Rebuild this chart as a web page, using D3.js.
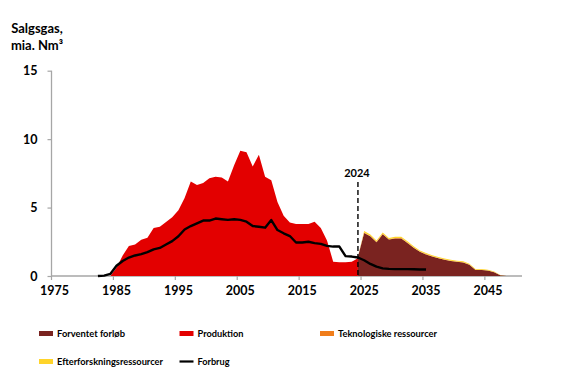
<!DOCTYPE html>
<html>
<head>
<meta charset="utf-8">
<script src="https://cdn.jsdelivr.net/npm/d3@7"></script>
<style>
html,body{margin:0;padding:0;background:#fff;}
svg{display:block;}
text{font-family:Lato, "Liberation Sans", sans-serif;font-weight:bold;fill:#000;}
</style>
</head>
<body>
<svg id="chart" width="576" height="376"></svg>
<script>
const categories = [1975,1976,1977,1978,1979,1980,1981,1982,1983,1984,1985,1986,1987,1988,1989,1990,1991,1992,1993,1994,1995,1996,1997,1998,1999,2000,2001,2002,2003,2004,2005,2006,2007,2008,2009,2010,2011,2012,2013,2014,2015,2016,2017,2018,2019,2020,2021,2022,2023,2024,2025,2026,2027,2028,2029,2030,2031,2032,2033,2034,2035,2036,2037,2038,2039,2040,2041,2042,2043,2044,2045,2046,2047,2048,2049,2050];
const xTickLabels = [1975,1985,1995,2005,2015,2025,2035,2045];
const yTickLabels = [0,5,10,15];

const produktionYears = [1984,1985,1986,1987,1988,1989,1990,1991,1992,1993,1994,1995,1996,1997,1998,1999,2000,2001,2002,2003,2004,2005,2006,2007,2008,2009,2010,2011,2012,2013,2014,2015,2016,2017,2018,2019,2020,2021,2022,2023,2024];
const produktion = [0,0.6,1.5,2.2,2.3,2.65,2.8,3.5,3.6,3.95,4.3,4.8,5.7,6.9,6.65,6.8,7.15,7.25,7.2,6.9,8.1,9.15,9.05,8.0,8.85,7.25,7.0,5.4,4.4,3.9,3.8,3.8,3.8,3.97,3.5,2.6,1.05,1.0,1.0,1.05,1.3];

const prognoseYears = [2024,2025,2026,2027,2028,2029,2030,2031,2032,2033,2034,2035,2036,2037,2038,2039,2040,2041,2042,2043,2044,2045,2046,2047,2048];
const forventetForloeb = [1.4,3.15,2.9,2.47,3.05,2.66,2.74,2.74,2.41,2.06,1.77,1.58,1.42,1.3,1.18,1.1,1.04,0.99,0.82,0.44,0.44,0.4,0.28,0.05,0];
const teknologiske = [0,0.03,0.03,0.03,0.03,0.03,0.03,0.03,0.03,0.03,0.02,0.02,0.02,0.02,0.02,0.02,0.02,0.02,0.02,0.02,0.02,0.01,0.01,0.01,0];
const efterforskning = [0,0.1,0.1,0.09,0.1,0.09,0.09,0.09,0.09,0.08,0.08,0.08,0.07,0.07,0.07,0.06,0.06,0.06,0.06,0.05,0.05,0.05,0.04,0.02,0];

const forbrugYears = [1982,1983,1984,1985,1986,1987,1988,1989,1990,1991,1992,1993,1994,1995,1996,1997,1998,1999,2000,2001,2002,2003,2004,2005,2006,2007,2008,2009,2010,2011,2012,2013,2014,2015,2016,2017,2018,2019,2020,2021,2022,2023,2024,2025,2026,2027,2028,2029,2030,2031,2032,2033,2034,2035];
const forbrug = [0,0.03,0.15,0.75,1.1,1.35,1.5,1.6,1.75,1.95,2.05,2.3,2.55,2.9,3.4,3.65,3.85,4.05,4.05,4.2,4.15,4.1,4.15,4.1,3.97,3.65,3.6,3.53,4.09,3.36,3.12,2.92,2.45,2.45,2.5,2.4,2.35,2.2,2.15,2.15,1.45,1.42,1.35,1.15,0.88,0.68,0.56,0.52,0.5,0.5,0.5,0.49,0.48,0.47];

const markerYear = 2024;
const legendLabels = ["Forventet forløb","Produktion","Teknologiske ressourcer","Efterforskningsressourcer","Forbrug"];

const colors = {
  forventet: "#7a2320",
  produktion: "#e30000",
  teknologiske: "#f07d1b",
  efterforskning: "#ffd42a",
  forbrug: "#000000",
  axis: "#a6a6a6"
};

const svg = d3.select("#chart");
const x = d3.scaleBand().domain(categories).range([51.5, 522]).paddingInner(0).paddingOuter(0);
const bw = x.bandwidth();
const xc = yr => x(yr) + bw / 2;
const y = d3.scaleLinear().domain([0, 15]).range([276, 70.7]);

// axes
const xAxis = d3.axisBottom(x).tickValues(xTickLabels).tickSize(4).tickFormat(d => d);
const gx = svg.append("g").attr("transform", "translate(0,276)").call(xAxis);
gx.select(".domain").attr("stroke", colors.axis).attr("stroke-width", 1.3).attr("d", `M${x.range()[0]},0H${x.range()[1]}`);
gx.selectAll(".tick").attr("transform", d => `translate(${x(d)},0)`);
gx.selectAll(".tick line").attr("stroke", colors.axis).attr("stroke-width", 1.2);
gx.selectAll(".tick text").attr("x", bw / 2).attr("y", 10).attr("dy", "0.71em").style("font-size", "12.5px").style("font-weight", "bold").style("font-family", "Lato, sans-serif");

const yAxis = d3.axisLeft(y).tickValues(yTickLabels).tickSize(4).tickPadding(10);
const gy = svg.append("g").attr("transform", `translate(${x.range()[0]},0)`).call(yAxis);
gy.select(".domain").attr("stroke", colors.axis).attr("stroke-width", 1.3).attr("d", `M0,${y(15)}V${y(0)}`);
gy.selectAll(".tick line").attr("stroke", colors.axis).attr("stroke-width", 1.2);
gy.selectAll(".tick text").style("font-size", "12.5px").style("font-weight", "bold").style("font-family", "Lato, sans-serif");

// produktion area
const prodData = produktionYears.map((yr, i) => ({yr, v: produktion[i]}));
svg.append("path").datum(prodData)
  .attr("fill", colors.produktion)
  .attr("d", d3.area().x(d => xc(d.yr)).y0(y(0)).y1(d => y(d.v)));

// stacked prognosis
const progRows = prognoseYears.map((yr, i) => ({yr, forventet: forventetForloeb[i], teknologiske: teknologiske[i], efterforskning: efterforskning[i]}));
const stack = d3.stack().keys(["forventet", "teknologiske", "efterforskning"])(progRows);
const areaS = d3.area().x(d => xc(d.data.yr)).y0(d => y(d[0])).y1(d => y(d[1]));
svg.selectAll(".stk").data(stack).join("path")
  .attr("class", "stk")
  .attr("fill", d => colors[d.key])
  .attr("d", areaS);

// forbrug line
const forbrugData = forbrugYears.map((yr, i) => ({yr, v: forbrug[i]}));
svg.append("path").datum(forbrugData)
  .attr("fill", "none").attr("stroke", colors.forbrug).attr("stroke-width", 2.4).attr("stroke-linejoin", "round")
  .attr("d", d3.line().x(d => xc(d.yr)).y(d => y(d.v)));

// 2024 marker
svg.append("line")
  .attr("x1", xc(markerYear)).attr("x2", xc(markerYear))
  .attr("y1", 182).attr("y2", y(0))
  .attr("stroke", "#000").attr("stroke-width", 1.4).attr("stroke-dasharray", "5,3");
svg.append("text").attr("x", xc(markerYear) - 1).attr("y", 177).attr("text-anchor", "middle")
  .style("font-size", "11px").text(markerYear);

// y title
svg.append("text").attr("x", 37).attr("y", 33).attr("text-anchor", "middle").style("font-size", "13px").text("Salgsgas,");
svg.append("text").attr("x", 37).attr("y", 50).attr("text-anchor", "middle").style("font-size", "13px").text("mia. Nm³");

// legend
const legendLayout = [
  {color: colors.forventet, type: "rect", lx: 39, ly: 333.5, w: 68},
  {color: colors.produktion, type: "rect", lx: 179.5, ly: 333.5, w: 46},
  {color: colors.teknologiske, type: "rect", lx: 320, ly: 333.5, w: 99},
  {color: colors.efterforskning, type: "rect", lx: 39, ly: 361.5, w: 106},
  {color: colors.forbrug, type: "line", lx: 179.5, ly: 361.5, w: 32}
];
const lg = svg.append("g");
legendLabels.forEach((label, i) => {
  const it = legendLayout[i];
  if (it.type === "rect") {
    lg.append("rect").attr("x", it.lx).attr("y", it.ly - 2.5).attr("width", 14).attr("height", 5).attr("fill", it.color);
  } else {
    lg.append("line").attr("x1", it.lx).attr("x2", it.lx + 14).attr("y1", it.ly).attr("y2", it.ly).attr("stroke", it.color).attr("stroke-width", 2.2);
  }
  lg.append("text").attr("x", it.lx + 18).attr("y", it.ly + 3.3).style("font-size", "9.5px")
    .attr("textLength", it.w).attr("lengthAdjust", "spacingAndGlyphs").text(label);
});
</script>
</body>
</html>
